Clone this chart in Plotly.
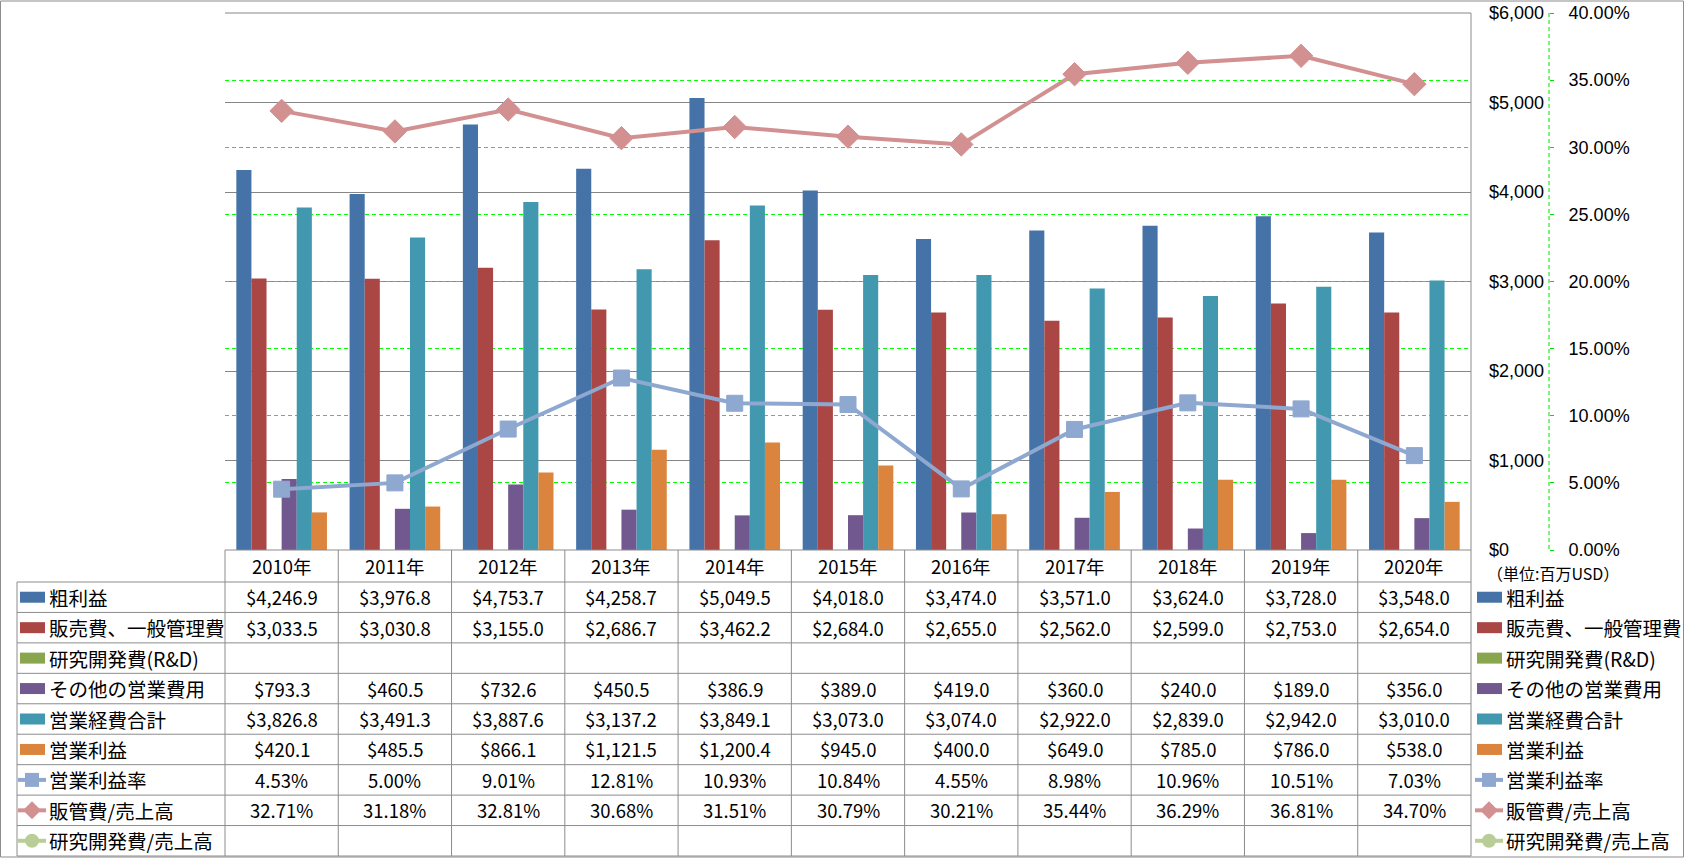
import plotly.graph_objects as go

W, H = 1685, 858
FONT = "Noto Sans CJK JP"
TICK_FONT = "Liberation Sans"

years = ["2010年", "2011年", "2012年", "2013年", "2014年", "2015年",
         "2016年", "2017年", "2018年", "2019年", "2020年"]
gross_profit = [4246.9, 3976.8, 4753.7, 4258.7, 5049.5, 4018.0, 3474.0, 3571.0, 3624.0, 3728.0, 3548.0]
sga = [3033.5, 3030.8, 3155.0, 2686.7, 3462.2, 2684.0, 2655.0, 2562.0, 2599.0, 2753.0, 2654.0]
rnd = [None, None, None, None, None, None, None, None, None, None, None]
other_opex = [793.3, 460.5, 732.6, 450.5, 386.9, 389.0, 419.0, 360.0, 240.0, 189.0, 356.0]
total_opex = [3826.8, 3491.3, 3887.6, 3137.2, 3849.1, 3073.0, 3074.0, 2922.0, 2839.0, 2942.0, 3010.0]
op_income = [420.1, 485.5, 866.1, 1121.5, 1200.4, 945.0, 400.0, 649.0, 785.0, 786.0, 538.0]
op_margin = [4.53, 5.00, 9.01, 12.81, 10.93, 10.84, 4.55, 8.98, 10.96, 10.51, 7.03]
sga_ratio = [32.71, 31.18, 32.81, 30.68, 31.51, 30.79, 30.21, 35.44, 36.29, 36.81, 34.70]
rnd_ratio = [None, None, None, None, None, None, None, None, None, None, None]

usd_ticks = [0, 1000, 2000, 3000, 4000, 5000, 6000]
pct_ticks = [0.0, 0.05, 0.10, 0.15, 0.20, 0.25, 0.30, 0.35, 0.40]

bar_names = ["粗利益", "販売費、一般管理費", "研究開発費(R&D)", "その他の営業費用", "営業経費合計", "営業利益"]
bar_colors = ["#4572A7", "#AA4643", "#89A54E", "#71588F", "#4198AF", "#DB843D"]
bar_values = [gross_profit, sga, rnd, other_opex, total_opex, op_income]
line_names = ["営業利益率", "販管費/売上高", "研究開発費/売上高"]
line_colors = ["#8EA8D0", "#D29090", "#B9CD96"]
line_symbols = ["square", "diamond", "circle"]
line_values = [op_margin, sga_ratio, rnd_ratio]


def px(x):
    return x / W


def py(y):
    return 1 - y / H


# geometry (pixels)
PL, PR, PT, PB = 225, 1471, 13, 550
TL = 17
HDR_B = 582
TB = 856
ncol = len(years)
colw = (PR - PL) / ncol
nrow = 9
rowh = (TB - HDR_B) / nrow

fig = go.Figure()
for name, vals, col in zip(bar_names, bar_values, bar_colors):
    fig.add_trace(go.Bar(x=years, y=vals, name=name, marker=dict(color=col, line=dict(width=0)),
                         showlegend=False, hoverinfo="skip"))
for name, vals, col, sym in zip(line_names, line_values, line_colors, line_symbols):
    yv = [None if v is None else v / 100 for v in vals]
    fig.add_trace(go.Scatter(x=years, y=yv, name=name, yaxis="y2", mode="lines+markers",
                             line=dict(color=col, width=4),
                             marker=dict(symbol=sym, size=18 if sym == "diamond" else 16, color=col,
                                         line=dict(color=col, width=1)),
                             showlegend=False, hoverinfo="skip"))

shapes = []
annotations = []
GRAY = "#8C8C8C"


def hline(x0, x1, y, color=GRAY, width=1):
    shapes.append(dict(type="line", xref="paper", yref="paper", x0=px(x0), x1=px(x1), y0=py(y), y1=py(y),
                       line=dict(color=color, width=width)))


def vline(x, y0, y1, color=GRAY, width=1, dash="solid"):
    shapes.append(dict(type="line", xref="paper", yref="paper", x0=px(x), x1=px(x), y0=py(y0), y1=py(y1),
                       line=dict(color=color, width=width, dash=dash)))


def text(x, y, s, size=18.5, anchor="center"):
    annotations.append(dict(xref="paper", yref="paper", x=px(x), y=py(y), text=s, showarrow=False,
                            xanchor=anchor, yanchor="middle", font=dict(family=FONT, size=size, color="#000000")))


# outer border
shapes.append(dict(type="rect", xref="paper", yref="paper", x0=px(0.5), x1=px(1683.5), y0=py(1), y1=py(857),
                   line=dict(color=GRAY, width=1)))
# plot area top + right border
hline(PL, PR, PT, color="#868686")
vline(PR, PT, TB)
# table grid
hline(PL, PR, PB)
hline(TL, PR, HDR_B)
for r in range(1, nrow + 1):
    hline(TL, PR, HDR_B + r * rowh)
vline(TL, HDR_B, TB)
for c in range(ncol):
    vline(PL + c * colw, PB, TB)
# secondary axis dashed line
vline(1549, PT, PB, color="#00E000", dash="4px,3px")

# header
for c, yr in enumerate(years):
    text(PL + (c + 0.5) * colw, (PB + HDR_B) / 2, yr)

rows_vals = []
for vals in bar_values:
    rows_vals.append(["" if v is None else "${:,.1f}".format(v) for v in vals])
for vals in line_values:
    rows_vals.append(["" if v is None else "{:.2f}%".format(v) for v in vals])
row_names = bar_names + line_names
row_colors = bar_colors + line_colors
row_kinds = ["bar"] * 6 + line_symbols

for r, (name, vals, col, kind) in enumerate(zip(row_names, rows_vals, row_colors, row_kinds)):
    yc = HDR_B + (r + 0.5) * rowh
    for c, s in enumerate(vals):
        if s:
            text(PL + (c + 0.5) * colw, yc, s)
    for kx in (20, 1477):
        text(kx + 27, yc, name, size=19.5, anchor="left")
        if kind == "bar":
            shapes.append(dict(type="rect", xref="paper", yref="paper", x0=px(kx), x1=px(kx + 25),
                               y0=py(yc - 5.5), y1=py(yc + 5.5), fillcolor=col, line=dict(width=0)))
        else:
            shapes.append(dict(type="line", xref="paper", yref="paper", x0=px(kx - 2), x1=px(kx + 26),
                               y0=py(yc), y1=py(yc), line=dict(color=col, width=4)))
            cx = kx + 12
            if kind == "square":
                shapes.append(dict(type="rect", xref="paper", yref="paper", x0=px(cx - 7), x1=px(cx + 7),
                                   y0=py(yc - 7), y1=py(yc + 7), fillcolor=col, line=dict(width=0)))
            elif kind == "diamond":
                path = "M {} {} L {} {} L {} {} L {} {} Z".format(px(cx - 9), py(yc), px(cx), py(yc - 9),
                                                                 px(cx + 9), py(yc), px(cx), py(yc + 9))
                shapes.append(dict(type="path", xref="paper", yref="paper", path=path, fillcolor=col,
                                   line=dict(width=0)))
            else:
                shapes.append(dict(type="circle", xref="paper", yref="paper", x0=px(cx - 7), x1=px(cx + 7),
                                   y0=py(yc - 7), y1=py(yc + 7), fillcolor=col, line=dict(width=0)))

# unit label
text(1485, 573, "（単位:百万USD）", size=16, anchor="left")

tickfont = dict(family=TICK_FONT, size=18, color="#000000")
fig.update_layout(
    width=W, height=H, autosize=False,
    margin=dict(l=0, r=0, t=0, b=0, autoexpand=False),
    paper_bgcolor="white", plot_bgcolor="white",
    barmode="group", bargap=0.2, bargroupgap=0,
    xaxis=dict(domain=[px(PL), px(PR)], range=[-0.5, 10.5], showticklabels=False, showgrid=False,
               showline=False, zeroline=False, ticks="", fixedrange=True, automargin=False),
    yaxis=dict(domain=[py(PB), py(PT)], range=[0, 6000.01], tickmode="array", tickvals=usd_ticks,
               ticktext=["${:,}".format(v) for v in usd_ticks],
               side="right", anchor="free", position=px(1488), showline=False, ticks="",
               gridcolor="#868686", gridwidth=1, zeroline=False, tickfont=tickfont,
               ticklabeloverflow="allow", automargin=False),
    yaxis2=dict(overlaying="y", range=[0, 0.4000007], tickmode="array", tickvals=pct_ticks,
                ticktext=["{:.2f}%".format(v * 100) for v in pct_ticks], side="right",
                anchor="free", position=px(1549), showline=False, ticks="outside", ticklen=4,
                tickcolor="#00E000", gridcolor="#00FF00", griddash="4px,3px", gridwidth=1,
                zeroline=False, tickfont=tickfont, ticklabelstandoff=11,
                ticklabeloverflow="allow", automargin=False),
    shapes=shapes,
    annotations=annotations,
)

fig.write_html("out.html", config={"displayModeBar": False},
               post_script="document.body.style.margin='0';")
